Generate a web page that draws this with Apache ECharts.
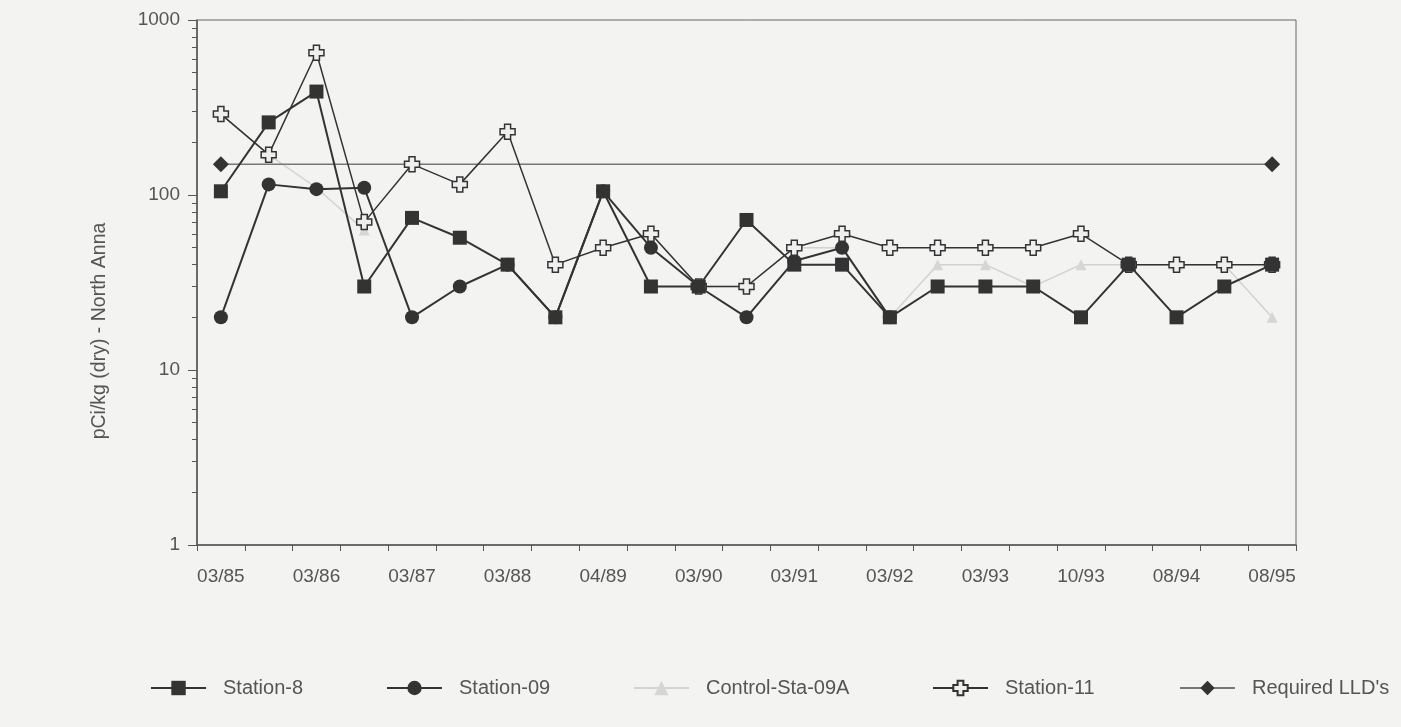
<!DOCTYPE html>
<html>
<head>
<meta charset="utf-8">
<script src="https://cdn.jsdelivr.net/npm/echarts@6/dist/echarts.min.js"></script>
<style>
  html, body { margin: 0; padding: 0; background: #f3f3f1; }
  #chart { width: 1401px; height: 727px; }
</style>
</head>
<body>
<div id="chart"></div>
<script>
// Sampling periods (semi-annual); only every other period carries a date label.
const categories = ['03/85', '', '03/86', '', '03/87', '', '03/88', '', '04/89', '', '03/90', '',
                    '03/91', '', '03/92', '', '03/93', '', '10/93', '', '08/94', '', '08/95'];

// Measured concentrations, pCi/kg (dry)
const station8  = [105, 260, 390, 30, 74, 57, 40, 20, 105, 30, 30, 72,
                   40, 40, 20, 30, 30, 30, 20, 40, 20, 30, 40];
const station09 = [20, 115, 108, 110, 20, 30, 40, 20, 105, 50, 30, 20,
                   42, 50, 20, null, null, null, null, null, null, null, null];
const control09A = [290, 170, 110, 63, null, null, null, null, null, 60, 30, 30,
                    50, 50, 20, 40, 40, 30, 40, 40, 40, 40, 20];
const station11 = [290, 170, 650, 70, 150, 115, 230, 40, 50, 60, 30, 30,
                   50, 60, 50, 50, 50, 50, 60, 40, 40, 40, 40];
const requiredLLD = [150, null, null, null, null, null, null, null, null, null, null, null,
                     null, null, null, null, null, null, null, null, null, null, 150];

// Log axis ticks
const yMajorTicks = [1, 10, 100, 1000];
const yMinorTicks = [2, 3, 4, 5, 6, 7, 8, 9, 20, 30, 40, 50, 60, 70, 80, 90,
                     200, 300, 400, 500, 600, 700, 800, 900];

const seriesNames = ['Station-8', 'Station-09', 'Control-Sta-09A', 'Station-11', "Required LLD's"];
const legendLefts = [150, 386, 633, 932, 1179];

const ink = '#333333';
const textInk = '#555555';
const font = 'Liberation Sans, Arial, sans-serif';
const plusPath = 'path://M3,0 L7,0 L7,3 L10,3 L10,7 L7,7 L7,10 L3,10 L3,7 L0,7 L0,3 L3,3 Z';

// One legend box per series so each entry keeps its own place along the bottom row
const legends = seriesNames.map((name, i) => ({
  top: 678, left: legendLefts[i], padding: 0,
  itemWidth: 55, itemHeight: 18,
  textStyle: { fontSize: 20, color: textInk, fontFamily: font, padding: [0, 0, 0, 12] },
  data: [name]
}));

const chart = echarts.init(document.getElementById('chart'));
chart.setOption({
  backgroundColor: '#f3f3f1',
  animation: false,
  grid: {
    left: 197, right: 105, top: 20, bottom: 182,
    show: true, borderColor: '#666', borderWidth: 1, backgroundColor: 'transparent'
  },
  legend: legends,
  xAxis: {
    type: 'category',
    data: categories,
    boundaryGap: true,
    axisLine: { lineStyle: { color: '#555', width: 1.5 } },
    axisTick: { show: true, interval: 0, length: 6, lineStyle: { color: '#555' } },
    axisLabel: { interval: 0, color: textInk, fontSize: 19, fontFamily: font, margin: 22 },
    splitLine: { show: false }
  },
  yAxis: [{
    type: 'log', logBase: 10, min: 1, max: 1000,
    axisLine: { show: true, lineStyle: { color: '#555', width: 1.5 } },
    axisTick: { show: true, length: 9, customValues: yMajorTicks, lineStyle: { color: '#555' } },
    axisLabel: {
      color: textInk, fontSize: 19, fontFamily: font, margin: 17,
      customValues: yMajorTicks, formatter: v => String(v)
    },
    splitLine: { show: false }
  }, {
    type: 'log', logBase: 10, min: 1, max: 1000, position: 'left', offset: 0,
    axisLine: { show: false },
    axisTick: { show: true, length: 5, customValues: yMinorTicks, lineStyle: { color: '#555' } },
    axisLabel: { show: false },
    splitLine: { show: false }
  }],
  graphic: [{
    type: 'text',
    x: 100, y: 331,
    rotation: Math.PI / 2,
    style: {
      text: 'pCi/kg (dry) - North Anna', fontSize: 19.5, fill: textInk, fontFamily: font,
      textAlign: 'center', textVerticalAlign: 'middle'
    }
  }],
  series: [{
    name: seriesNames[0], type: 'line', data: station8,
    symbol: 'rect', symbolSize: 14, z: 5,
    itemStyle: { color: ink }, lineStyle: { color: ink, width: 2 }
  }, {
    name: seriesNames[1], type: 'line', data: station09,
    symbol: 'circle', symbolSize: 14, z: 4,
    itemStyle: { color: ink }, lineStyle: { color: ink, width: 2 }
  }, {
    name: seriesNames[2], type: 'line', data: control09A,
    symbol: 'triangle', symbolSize: 11, z: 2,
    itemStyle: { color: '#d6d6d6' }, lineStyle: { color: '#d2d2d2', width: 1.5 }
  }, {
    name: seriesNames[3], type: 'line', data: station11,
    symbol: plusPath, symbolSize: 15, z: 4,
    itemStyle: { color: '#efefef', borderColor: ink, borderWidth: 1.5 },
    lineStyle: { color: ink, width: 1.5 }
  }, {
    name: seriesNames[4], type: 'line', data: requiredLLD, connectNulls: true,
    symbol: 'diamond', symbolSize: 16, z: 3,
    itemStyle: { color: ink }, lineStyle: { color: '#777', width: 1.5 }
  }]
});
</script>
</body>
</html>
